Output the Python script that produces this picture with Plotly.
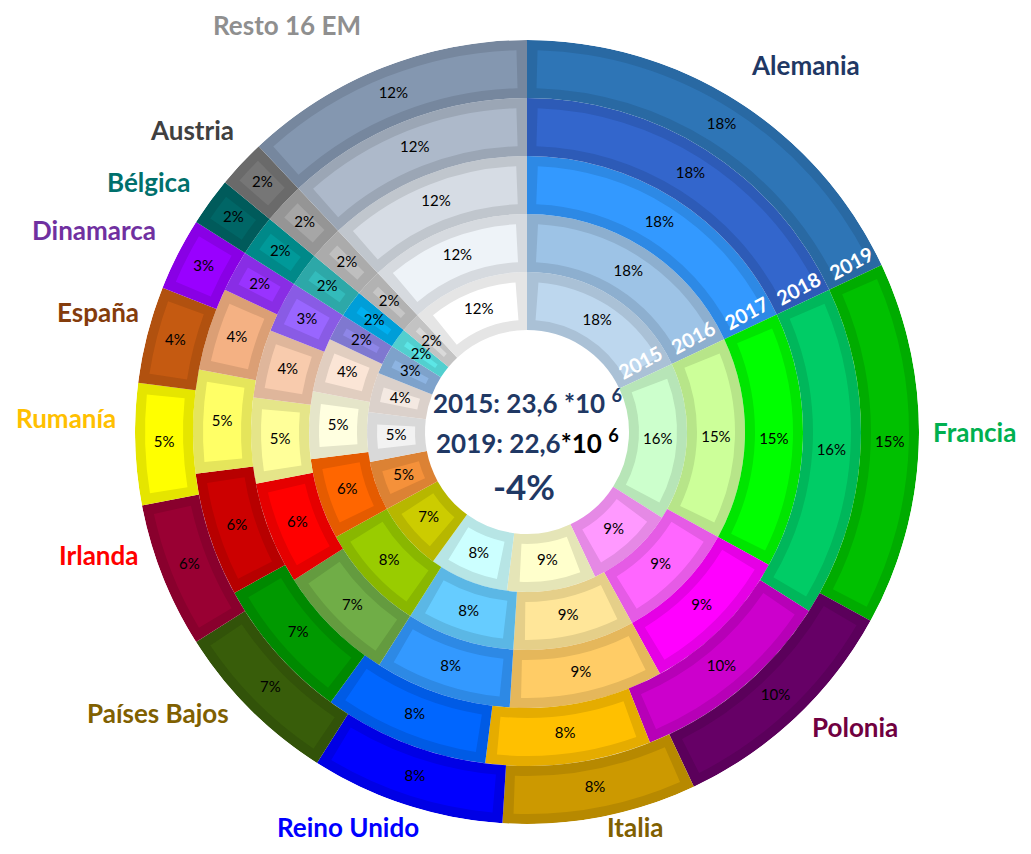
import math
import plotly.graph_objects as go

# ── Data ─────────────────────────────────────────────────────────────────────
YEARS = ["2015", "2016", "2017", "2018", "2019"]
COUNTRIES = [
    "Alemania", "Francia", "Polonia", "Italia", "Reino Unido", "Países Bajos",
    "Irlanda", "Rumanía", "España", "Dinamarca", "Bélgica", "Austria", "Resto 16 EM",
]
SHARE_2015 = [18, 16, 9, 9, 8, 7, 5, 5, 4, 3, 2, 2, 12]
SHARE_2016 = [18, 15, 9, 9, 8, 8, 6, 5, 4, 2, 2, 2, 12]
SHARE_2017 = [18, 15, 9, 9, 8, 7, 6, 5, 4, 3, 2, 2, 12]
SHARE_2018 = [18, 16, 10, 8, 8, 7, 6, 5, 4, 2, 2, 2, 12]
SHARE_2019 = [18, 15, 10, 8, 8, 7, 6, 5, 4, 3, 2, 2, 12]
SHARES = [SHARE_2015, SHARE_2016, SHARE_2017, SHARE_2018, SHARE_2019]

TOTAL_2015 = "23,6"
TOTAL_2019 = "22,6"
CHANGE = "-4%"

# ── Colours (one shade per year, inner ring 2015 → outer ring 2019) ─────────
PALETTE = {
    "Alemania":     ["#BDD7EE", "#9DC3E6", "#3399FF", "#3366CC", "#2E75B6"],
    "Francia":      ["#CCFFCC", "#CCFF99", "#00FF00", "#00CC66", "#00C000"],
    "Polonia":      ["#FF99FF", "#FF66FF", "#FF00FF", "#CC00CC", "#660066"],
    "Italia":       ["#FFFFCC", "#FFE699", "#FFCC66", "#FFC000", "#CC9900"],
    "Reino Unido":  ["#CCFFFF", "#66CCFF", "#3399FF", "#0066FF", "#0000FF"],
    "Países Bajos": ["#CCCC00", "#99CC00", "#70AD47", "#009900", "#385D0A"],
    "Irlanda":      ["#F5913A", "#FF6600", "#FF0000", "#CC0000", "#990033"],
    "Rumanía":      ["#F2F2F2", "#FFFFE0", "#FFFF99", "#FFFF66", "#FFFF00"],
    "España":       ["#F4E9E2", "#FBE5D6", "#F8CBAD", "#F4B183", "#C55A11"],
    "Dinamarca":    ["#8DB4E2", "#8E86E8", "#9966FF", "#9933FF", "#9900FF"],
    "Bélgica":      ["#5CE6E6", "#00B0F0", "#33BBBB", "#009999", "#006666"],
    "Austria":      ["#D9D9D9", "#C6C6C6", "#BFBFBF", "#A6A6A6", "#767676"],
    "Resto 16 EM":  ["#FFFFFF", "#EEF3F8", "#D6DCE4", "#ADB9CA", "#8497B0"],
}

# label centre in window pixels, colour
LABEL_STYLE = {
    "Alemania":     ((805, 65), "#1F3864"),
    "Francia":      ((974, 432), "#00B050"),
    "Polonia":      ((855, 727), "#700040"),
    "Italia":       ((635, 827), "#806000"),
    "Reino Unido":  ((348, 827), "#0000FF"),
    "Países Bajos": ((158, 713), "#806000"),
    "Irlanda":      ((98, 555), "#FF0000"),
    "Rumanía":      ((66, 418), "#FFC000"),
    "España":       ((98, 312), "#843C0C"),
    "Dinamarca":    ((94, 230), "#7030A0"),
    "Bélgica":      ((148, 182), "#00706C"),
    "Austria":      ((192, 130), "#404040"),
    "Resto 16 EM":  ((287, 25), "#8F8F8F"),
}

NAVY = "#1F3864"
FONT = "Lato"

# ── Geometry (window pixels; the page body adds an 8px margin) ──────────────
WIN_W, WIN_H, PAD = 1031, 854, 8
W, H = WIN_W - 2 * PAD, WIN_H - 2 * PAD
CX, CY = 527, 432
R_HOLE, RING, FRAME = 102, 58, 10
R_OUT = R_HOLE + RING * len(YEARS)


def darker(hex_color, f=0.9):
    h = hex_color.lstrip("#")
    r, g, b = (int(h[i:i + 2], 16) for i in (0, 2, 4))
    return "#{:02X}{:02X}{:02X}".format(int(r * f), int(g * f), int(b * f))


def px_to_paper(x, y):
    return (x - PAD) / W, 1 - (y - PAD) / H


fig = go.Figure()
text_traces = []
year_annotations = []

for k, (year, shares) in enumerate(zip(YEARS, SHARES)):
    n = len(shares)
    total = sum(shares)
    widths = [s / total * 360 for s in shares]
    mids, acc = [], 0.0
    for w in widths:
        mids.append(acc + w / 2)
        acc += w

    base = R_HOLE + k * RING
    r_mid = base + RING / 2
    inset = math.degrees(FRAME / r_mid)
    fills = [PALETTE[c][k] for c in COUNTRIES]

    # outer frame of each segment
    fig.add_trace(go.Barpolar(
        theta=mids, r=[RING] * n, base=[base] * n, width=widths,
        marker=dict(color=[darker(c) for c in fills], line=dict(width=0)),
        hoverinfo="skip", showlegend=False,
    ))
    # lighter inner panel
    fig.add_trace(go.Barpolar(
        theta=mids, r=[RING - 2 * FRAME] * n, base=[base + FRAME] * n,
        width=[max(w - 2 * inset, w * 0.3) for w in widths],
        marker=dict(color=fills, line=dict(width=0)),
        hoverinfo="skip", showlegend=False,
    ))

    text_traces.append(go.Scatterpolar(
        r=[r_mid] * n, theta=mids, mode="text",
        text=[f"{s}%" for s in shares],
        textfont=dict(family=FONT, size=15, color="#000000"),
        hoverinfo="skip", showlegend=False,
    ))

    # year tag along the Alemania / Francia boundary
    theta_b = widths[0]
    r_lab = r_mid + 2
    th = math.radians(theta_b - math.degrees(15 / r_lab))
    x, y = px_to_paper(CX + r_lab * math.sin(th), CY - r_lab * math.cos(th))
    year_annotations.append(dict(
        x=x, y=y, xref="paper", yref="paper", showarrow=False,
        text=f"<b>{year}</b>", textangle=-(90 - theta_b) - 3,
        font=dict(family=FONT, size=20, color="white"),
        xanchor="center", yanchor="middle",
    ))

for t in text_traces:
    fig.add_trace(t)

label_annotations = []
for name in COUNTRIES:
    (lx, ly), color = LABEL_STYLE[name]
    x, y = px_to_paper(lx, ly)
    label_annotations.append(dict(
        x=x, y=y, xref="paper", yref="paper", showarrow=False,
        text=f"<b>{name}</b>", font=dict(family=FONT, size=26, color=color),
        xanchor="center", yanchor="middle",
    ))

cx_p, _ = px_to_paper(CX, 0)
center_annotations = [
    dict(x=cx_p, y=px_to_paper(0, 401)[1],
         text=f"<b>2015: {TOTAL_2015} *10 <sup>6</sup></b>",
         font=dict(family=FONT, size=26, color=NAVY)),
    dict(x=cx_p, y=px_to_paper(0, 441)[1],
         text=(f"<b>2019: {TOTAL_2019}"
               "<span style='color:#000000'>*10 <sup>6</sup></span></b>"),
         font=dict(family=FONT, size=26, color=NAVY)),
    dict(x=px_to_paper(CX - 3, 0)[0], y=px_to_paper(0, 486)[1],
         text=f"<b>{CHANGE}</b>",
         font=dict(family=FONT, size=35, color=NAVY)),
]
for a in center_annotations:
    a.update(xref="paper", yref="paper", showarrow=False,
             xanchor="center", yanchor="middle")

fig.update_layout(
    width=W, height=H,
    margin=dict(l=0, r=0, t=0, b=0),
    paper_bgcolor="white",
    showlegend=False,
    polar=dict(
        domain=dict(x=[(CX - PAD - R_OUT) / W, (CX - PAD + R_OUT) / W],
                    y=[(H - (CY - PAD) - R_OUT) / H, (H - (CY - PAD) + R_OUT) / H]),
        bgcolor="white",
        barmode="overlay",
        radialaxis=dict(range=[0, R_OUT], visible=False),
        angularaxis=dict(direction="clockwise", rotation=90, visible=False),
    ),
    annotations=year_annotations + label_annotations + center_annotations,
)

fig.write_html("out.html")
